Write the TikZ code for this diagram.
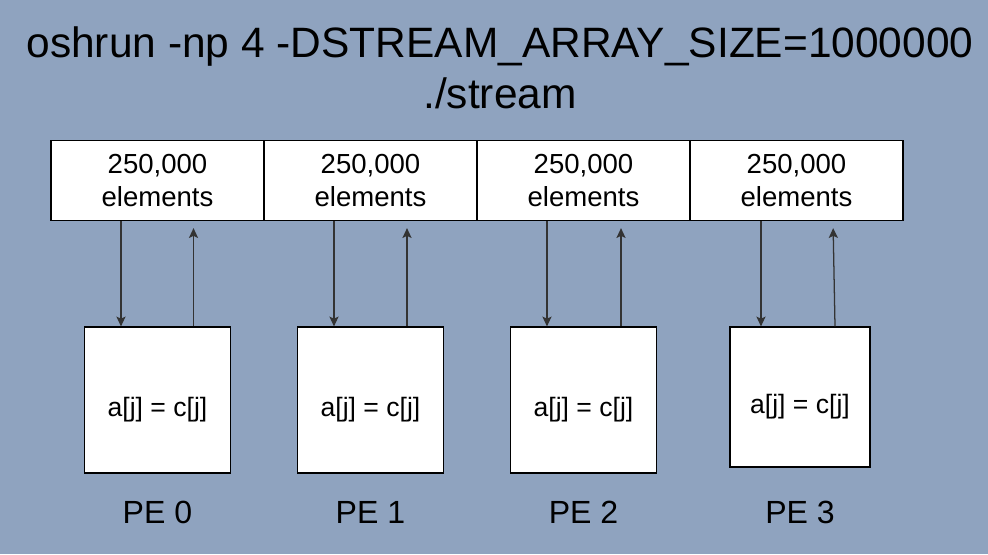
\documentclass[tikz,border=0pt]{standalone}
\usepackage{fontspec}
\setmainfont{Liberation Sans}
\usetikzlibrary{arrows.meta}
\definecolor{slate}{HTML}{8FA3BF}
\definecolor{wire}{HTML}{333333}
\begin{document}
\begin{tikzpicture}
[x=0.025cm,y=-0.025cm,
cell/.style={draw=black,fill=white,line width=0.8pt,minimum width=5.325cm,minimum height=2cm,align=center,inner sep=0pt,font=\fontsize{19.6}{23.4}\selectfont},
pe/.style={draw=black,fill=white,line width=0.8pt,inner sep=0pt,text height=26pt,text depth=3pt,font=\fontsize{18.9}{22}\selectfont},
pelabel/.style={anchor=base,font=\fontsize{22.8}{26}\selectfont},
headline/.style={anchor=base,font=\fontsize{30.2}{36}\selectfont},
link/.style={-{Stealth[length=7pt,width=6.5pt,inset=1.5pt]},draw=wire,line width=0.9pt}]
%background
	\fill[slate] (0,0) rectangle (988,554);
%command line
	\node[headline] (cmd) at (500,57) {oshrun -np 4 -DSTREAM\_ARRAY\_SIZE=1000000};
	\node[headline] (prog) at (500,108) {./stream};
%array slices and PEs
\foreach \i / \x / \px / \py / \s in {0/157.5/157.5/400/3.65cm,1/370.5/370.5/400/3.65cm,2/583.5/583.5/400/3.65cm,3/796.5/800/397/3.5cm}
{
	\node[cell] (c\i) at (\x,180.5) {250,000\\elements};
	\node[pe,minimum size=\s] (p\i) at (\px,\py) {a[j] = c[j]};
	\node[pelabel] (l\i) at (\px,523) {PE \i};
}
%get and put
\foreach \i / \d / \u / \v in {0/-0.9125/0.9/0.9,1/-0.9125/0.9125/0.9125,2/-0.9125/0.9375/0.9375,3/-0.975/0.875/0.825}
{
	\draw[link] ([xshift=\d cm]p\i.north |- c\i.south) -- ([xshift=\d cm]p\i.north);
	\draw[link,shorten >=5pt] ([xshift=\u cm]p\i.north) -- ([xshift=\v cm]p\i.north |- c\i.south);
}
\end{tikzpicture}
\end{document}
